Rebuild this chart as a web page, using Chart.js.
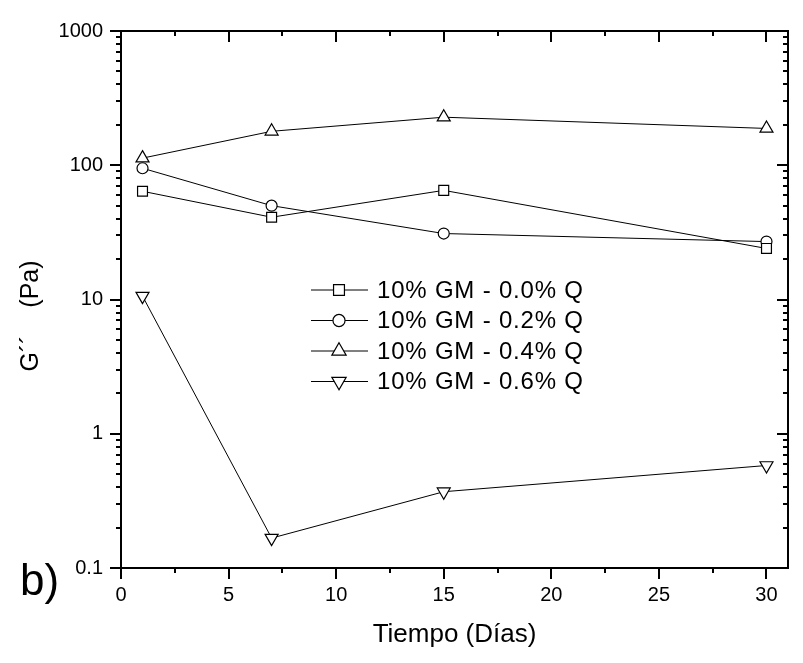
<!DOCTYPE html>
<html>
<head>
<meta charset="utf-8">
<script src="https://cdn.jsdelivr.net/npm/chart.js@4.4.1/dist/chart.umd.min.js"></script>
<style>
  html, body { margin: 0; padding: 0; background: #fff; }
  canvas { display: block; }
</style>
</head>
<body>
<canvas id="chart-g2" width="803" height="663"></canvas>
<script>
"use strict";

// values
const days = [1, 7, 15, 30];
const q00 = [64, 41, 65, 24];
const q02 = [95, 50, 31, 27];
const q04 = [113, 179, 228, 188];
const q06 = [10.6, 0.167, 0.37, 0.58];
const seriesLabels = ['10% GM - 0.0% Q', '10% GM - 0.2% Q', '10% GM - 0.4% Q', '10% GM - 0.6% Q'];
const xTickValues = [0, 5, 10, 15, 20, 25, 30];
const yTickValues = [0.1, 1, 10, 100, 1000];

const FONT = "'Liberation Sans', Arial, sans-serif";

const markers = [
    { pointStyle: 'rect', radius: 7, rotation: 0 },
    { pointStyle: 'circle', radius: 5.5, rotation: 0 },
    { pointStyle: 'triangle', radius: 7.5, rotation: 0 },
    { pointStyle: 'triangle', radius: 7.5, rotation: 180 },
];

function makeSet(label, values, m) {
    return {
        label: label,
        data: days.map((d, i) => ({ x: d, y: values[i] })),
        borderColor: '#000',
        borderWidth: 1,
        backgroundColor: '#fff',
        pointStyle: m.pointStyle,
        pointRadius: m.radius,
        pointRotation: m.rotation,
        pointBorderWidth: 1.2,
        pointBackgroundColor: '#fff',
        pointBorderColor: '#000',
        tension: 0,
    };
}

// box, tick marks, titles and the in-plot legend
const frame = {
    id: 'frame',
    afterDraw(chart) {
        const { ctx, chartArea: a, scales: { x, y } } = chart;
        ctx.save();
        ctx.strokeStyle = '#000';
        ctx.lineWidth = 2;
        ctx.strokeRect(a.left, a.top, a.right - a.left, a.bottom - a.top);

        ctx.beginPath();
        for (let v = 0; v <= 30; v += 2.5) {
            const px = Math.round(x.getPixelForValue(v));
            const len = v % 5 === 0 ? 11 : 5;
            ctx.moveTo(px, a.bottom); ctx.lineTo(px, a.bottom + len);
            ctx.moveTo(px, a.top); ctx.lineTo(px, a.top + len);
        }
        for (const d of yTickValues) {
            for (let m = 1; m <= 9; m++) {
                const v = d * m;
                if (v > 1000.001) break;
                const py = Math.round(y.getPixelForValue(v));
                const len = m === 1 ? 11 : 5;
                ctx.moveTo(a.left - len, py); ctx.lineTo(a.left, py);
                ctx.moveTo(a.right - len, py); ctx.lineTo(a.right, py);
            }
        }
        ctx.stroke();

        ctx.fillStyle = '#000';
        ctx.textAlign = 'center';
        ctx.textBaseline = 'middle';
        ctx.font = '26px ' + FONT;
        ctx.fillText('Tiempo (Días)', (a.left + a.right) / 2, 635);

        ctx.save();
        ctx.font = '25px ' + FONT;
        ctx.translate(31, 316);
        ctx.rotate(-Math.PI / 2);
        ctx.fillText('G´´    (Pa)', 0, 0);
        ctx.restore();

        ctx.textAlign = 'left';
        ctx.font = '44px ' + FONT;
        ctx.fillText('b)', 20, 583);

        // legend
        ctx.font = '24px ' + FONT;
        ctx.letterSpacing = '0.8px';
        seriesLabels.forEach((label, i) => {
            const ly = 290 + i * 30.5;
            ctx.lineWidth = 1;
            ctx.beginPath();
            ctx.moveTo(311, ly); ctx.lineTo(368, ly);
            ctx.stroke();
            ctx.fillStyle = '#fff';
            ctx.lineWidth = 1.2;
            const m = markers[i];
            Chart.helpers.drawPoint(ctx, {
                pointStyle: m.pointStyle,
                radius: m.radius * 1.1,
                rotation: m.rotation,
                borderWidth: 1.2,
            }, 339, ly);
            ctx.fillStyle = '#000';
            ctx.fillText(label, 377, ly + 1);
        });
        ctx.restore();
    }
};

new Chart(document.getElementById('chart-g2').getContext('2d'), {
    type: 'line',
    data: {
        datasets: [
            makeSet(seriesLabels[0], q00, markers[0]),
            makeSet(seriesLabels[1], q02, markers[1]),
            makeSet(seriesLabels[2], q04, markers[2]),
            makeSet(seriesLabels[3], q06, markers[3]),
        ]
    },
    options: {
        responsive: false,
        animation: false,
        devicePixelRatio: 1,
        layout: {
            padding: { top: 31, right: 15, left: 0, bottom: 0 }
        },
        plugins: {
            legend: { display: false },
            tooltip: { enabled: false },
        },
        scales: {
            x: {
                type: 'linear',
                min: 0,
                max: 31,
                grid: { display: false, drawTicks: false },
                border: { display: false },
                afterBuildTicks: (scale) => {
                    scale.ticks = xTickValues.map(v => ({ value: v }));
                },
                afterFit: (scale) => { scale.height = 95; },
                ticks: {
                    color: '#000',
                    font: { family: FONT, size: 20 },
                    padding: 15,
                    maxRotation: 0,
                    autoSkip: false,
                    callback: (v) => String(v),
                },
            },
            y: {
                type: 'logarithmic',
                min: 0.1,
                max: 1000,
                grid: { display: false, drawTicks: false },
                border: { display: false },
                afterBuildTicks: (scale) => {
                    scale.ticks = yTickValues.map(v => ({ value: v }));
                },
                afterFit: (scale) => { scale.width = 121; },
                ticks: {
                    color: '#000',
                    font: { family: FONT, size: 20 },
                    padding: 18,
                    autoSkip: false,
                    callback: (v) => String(v),
                },
            }
        }
    },
    plugins: [frame]
});
</script>
</body>
</html>
